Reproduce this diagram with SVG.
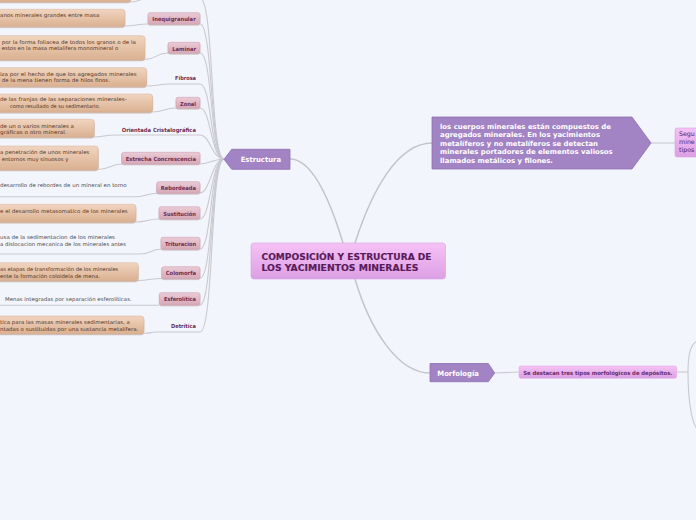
<svg xmlns="http://www.w3.org/2000/svg" width="696" height="520" viewBox="0 0 696 520">
<style>
text{font-family:"DejaVu Sans","Liberation Sans",sans-serif}
.con{fill:none;stroke:#c9c9ce;stroke-width:1.1}
.main{fill:none;stroke:#c4c4ca;stroke-width:1.5}
.lbl{fill:url(#gLbl);stroke:#d0a2b3;stroke-width:0.6;filter:url(#sh)}
.lt{font-size:5.6px;font-weight:bold;fill:#6e2f50}
.desc{fill:url(#gTan);stroke:#d6b094;stroke-width:0.5;filter:url(#sh)}
.dt{font-size:5.2px;fill:#55361f}
.pt{font-size:5.2px;fill:#4a4a4a}
.wt{font-weight:bold;fill:#ffffff}
.purple{fill:#a283c3;stroke:#8e6eb0;stroke-width:0.8}
</style>
<defs>
<filter id="sh" x="-10%" y="-20%" width="120%" height="160%"><feDropShadow dx="0" dy="1" stdDeviation="0.6" flood-color="#9a7a6a" flood-opacity="0.45"/></filter>
<linearGradient id="gLbl" x1="0" y1="0" x2="0" y2="1"><stop offset="0" stop-color="#eacbd6"/><stop offset="1" stop-color="#d6a8b8"/></linearGradient>
<linearGradient id="gTan" x1="0" y1="0" x2="0" y2="1"><stop offset="0" stop-color="#f1d5c0"/><stop offset="1" stop-color="#dab090"/></linearGradient>
<linearGradient id="gPink" x1="0" y1="0" x2="0" y2="1"><stop offset="0" stop-color="#f5c2f5"/><stop offset="1" stop-color="#dc9fe4"/></linearGradient>
</defs>
<rect width="696" height="520" fill="#f3f5fd"/>

<g id="connectors">
<path class="main" d="M290 159 C312 159 330 200 343 243"/>
<path class="main" d="M355 243 C372 190 398 143 432 143"/>
<path class="main" d="M355 279 C370 330 398 373 430 373"/>
<path class="con" d="M495 373 L519 372"/>
<path class="con" d="M651 143 L675 143"/>
<path class="con" d="M677 372 L688 372"/>
<path class="con" d="M688 372 C688 352 691 342 700 340"/>
<path class="con" d="M688 372 C688 396 691 428 700 431"/>
<path class="con" d="M200 -2 C214 -2 210 159 224 159"/>
<path class="con" d="M200 24 C213 24 210 159 224 159"/>
<path class="con" d="M200 53 C213 53 210 159 224 159"/>
<path class="con" d="M200 84 C212 84 210 159 224 159"/>
<path class="con" d="M200 108 C211 108 211 159 224 159"/>
<path class="con" d="M200 135 C210 135 212 159 224 159"/>
<path class="con" d="M200 164 C210 164 213 159 224 159"/>
<path class="con" d="M200 193 C210 193 212 159 224 159"/>
<path class="con" d="M200 219 C211 219 211 159 224 159"/>
<path class="con" d="M200 249 C212 249 210 159 224 159"/>
<path class="con" d="M200 278 C213 278 210 159 224 159"/>
<path class="con" d="M200 305 C213 305 210 159 224 159"/>
<path class="con" d="M200 332 C214 332 210 159 224 159"/>
<path class="con" d="M131 2 C140 2 140 -2 150 -2 L200 -2"/>
<path class="con" d="M125 26 C136 26 136 24 148 24"/>
<path class="con" d="M145 59.5 C156 59.5 156 53 168 53"/>
<path class="con" d="M147 86 C158 86 158 84 170 84 L200 84"/>
<path class="con" d="M153 112 C164 112 164 108 176 108"/>
<path class="con" d="M94 137 C104 137 104 135 116 135 L200 135"/>
<path class="con" d="M98 169.5 C110 169.5 110 164 122 164"/>
<path class="con" d="M-5 196.7 L136 196.7 C147 196.7 146 193.3 157 193.3"/>
<path class="con" d="M136 222 C147 222 148 219 159 219"/>
<path class="con" d="M-5 254 L140 254 C151 254 150 249.3 161 249.3"/>
<path class="con" d="M138 280.5 C149 280.5 150 278.5 162 278.5"/>
<path class="con" d="M-5 305.3 L159 305.3"/>
<path class="con" d="M144 333.3 C152 333.3 150 332 157 332 L200 332"/>
</g>

<g id="center">
<rect x="251" y="243" width="194.5" height="36" rx="3" fill="url(#gPink)" stroke="#d9a0e0" stroke-width="0.6"/>
<text x="261.5" y="260" font-size="8.6" font-weight="bold" fill="#5a1a5a" stroke="#5a1a5a" stroke-width="0.15" textLength="170" lengthAdjust="spacingAndGlyphs">COMPOSICIÓN Y ESTRUCTURA DE</text>
<text x="261.5" y="271.2" font-size="8.6" font-weight="bold" fill="#5a1a5a" stroke="#5a1a5a" stroke-width="0.15" textLength="157" lengthAdjust="spacingAndGlyphs">LOS YACIMIENTOS MINERALES</text>
</g>

<g id="estructura">
<polygon class="purple" points="224,159.3 231.7,149.3 290,149.3 290,169.3 231.7,169.3"/>
<text class="wt" x="240.7" y="162" font-size="7.2" textLength="40.3" lengthAdjust="spacingAndGlyphs">Estructura</text>
</g>

<g id="composicion">
<polygon class="purple" points="432,117 632,117 651,143 632,169 432,169"/>
<text class="wt" x="440" y="129" font-size="6.9" textLength="171" lengthAdjust="spacingAndGlyphs">los cuerpos minerales están compuestos de</text>
<text class="wt" x="440" y="137.4" font-size="6.9" textLength="160" lengthAdjust="spacingAndGlyphs">agregados minerales. En los yacimientos</text>
<text class="wt" x="440" y="145.8" font-size="6.9" textLength="158" lengthAdjust="spacingAndGlyphs">metalíferos y no metalíferos se detectan</text>
<text class="wt" x="440" y="154.2" font-size="6.9" textLength="172.7" lengthAdjust="spacingAndGlyphs">minerales portadores de elementos valiosos</text>
<text class="wt" x="440" y="162.6" font-size="6.9" textLength="113" lengthAdjust="spacingAndGlyphs">llamados metálicos y filones.</text>
</g>

<g id="segun">
<rect x="675" y="128" width="30" height="29" rx="2" fill="url(#gPink)" stroke="#d9a0e0" stroke-width="0.6"/>
<text x="679" y="136" font-size="6.3" fill="#5a1a5a">Segu</text>
<text x="679" y="144" font-size="6.3" fill="#5a1a5a">mine</text>
<text x="679" y="152" font-size="6.3" fill="#5a1a5a">tipos</text>
</g>

<g id="morfologia">
<polygon class="purple" points="430,363.5 488.3,363.5 494.7,373 488.3,381.7 430,381.7"/>
<text class="wt" x="437.3" y="376" font-size="7.2" textLength="41.7" lengthAdjust="spacingAndGlyphs">Morfología</text>
</g>

<g id="destacan">
<rect x="519" y="366" width="157.7" height="12.3" rx="2" fill="url(#gPink)" stroke="#dca4e4" stroke-width="0.5"/>
<text x="523.3" y="374.5" font-size="5.6" font-weight="bold" fill="#6a2a6a" textLength="149" lengthAdjust="spacingAndGlyphs">Se destacan tres tipos morfológicos de depósitos.</text>
</g>

<g id="top-item">
<rect class="desc" x="-20" y="-14" width="151" height="16" rx="3"/>
</g>

<g id="inequigranular">
<rect class="lbl" x="148" y="12.7" width="52" height="11.6" rx="2"/>
<text class="lt" x="152.3" y="20.8" textLength="43.4" lengthAdjust="spacingAndGlyphs">Inequigranular</text>
<rect class="desc" x="-20" y="9.3" width="145" height="17.4" rx="3"/>
<text class="dt" x="0" y="17" textLength="99.3" lengthAdjust="spacingAndGlyphs">anos minerales grandes entre masa</text>
</g>

<g id="laminar">
<rect class="lbl" x="168" y="42.3" width="32" height="11" rx="2"/>
<text class="lt" x="172.3" y="50.6" textLength="23.7" lengthAdjust="spacingAndGlyphs">Laminar</text>
<rect class="desc" x="-20" y="35.7" width="165" height="24.3" rx="3"/>
<text class="dt" x="1.7" y="44" textLength="134.3" lengthAdjust="spacingAndGlyphs">por la forma foliacea de todos los granos o de la</text>
<text class="dt" x="1.7" y="50" textLength="116.6" lengthAdjust="spacingAndGlyphs">estos en la masa metalifera monomineral o</text>
</g>

<g id="fibrosa">
<text class="lt" x="175" y="80.3" textLength="21" lengthAdjust="spacingAndGlyphs">Fibrosa</text>
<rect class="desc" x="-20" y="67.7" width="166.7" height="19" rx="3"/>
<text class="dt" x="0" y="75.8" textLength="136.7" lengthAdjust="spacingAndGlyphs">iza por el hecho de que los agregados minerales</text>
<text class="dt" x="1.7" y="81.8" textLength="108.3" lengthAdjust="spacingAndGlyphs">de la mena tienen forma de hilos finos.</text>
</g>

<g id="zonal">
<rect class="lbl" x="176" y="97.3" width="24" height="11" rx="2"/>
<text class="lt" x="180" y="105.8" textLength="16" lengthAdjust="spacingAndGlyphs">Zonal</text>
<rect class="desc" x="-20" y="94" width="172.7" height="18.3" rx="3"/>
<text class="dt" x="0" y="101.3" textLength="126.7" lengthAdjust="spacingAndGlyphs">de las franjas de las separaciones minerales-</text>
<text class="dt" x="10" y="108.3" textLength="90" lengthAdjust="spacingAndGlyphs">como resultado de su sedimentario.</text>
</g>

<g id="orientada">
<text class="lt" x="121.7" y="132" textLength="74.3" lengthAdjust="spacingAndGlyphs">Orientada Cristalográfica</text>
<rect class="desc" x="-20" y="119.3" width="114.3" height="18" rx="3"/>
<text class="dt" x="0" y="127.6" textLength="74" lengthAdjust="spacingAndGlyphs">de un o varios minerales a</text>
<text class="dt" x="0" y="134" textLength="66.7" lengthAdjust="spacingAndGlyphs">gráficas o otro mineral.</text>
</g>

<g id="estrecha">
<rect class="lbl" x="121.7" y="152.3" width="78.3" height="11.7" rx="2"/>
<text class="lt" x="125.7" y="160.8" textLength="70.3" lengthAdjust="spacingAndGlyphs">Estrecha Concrescencia</text>
<rect class="desc" x="-20" y="146" width="118.3" height="24" rx="3"/>
<text class="dt" x="0" y="154.2" textLength="89.3" lengthAdjust="spacingAndGlyphs">a penetración de unos minerales</text>
<text class="dt" x="1.7" y="161" textLength="66.6" lengthAdjust="spacingAndGlyphs">entornos muy sinuosos y</text>
</g>

<g id="rebordeada">
<rect class="lbl" x="156.7" y="181.7" width="43.3" height="11.6" rx="2"/>
<text class="lt" x="160.7" y="190.3" textLength="35.3" lengthAdjust="spacingAndGlyphs">Rebordeada</text>
<text class="pt" x="0" y="187" textLength="126.7" lengthAdjust="spacingAndGlyphs">desarrollo de rebordes de un mineral en torno</text>
</g>

<g id="sustitucion">
<rect class="lbl" x="159" y="206.7" width="41" height="12.3" rx="2"/>
<text class="lt" x="163.3" y="215.5" textLength="32.7" lengthAdjust="spacingAndGlyphs">Sustitución</text>
<rect class="desc" x="-20" y="204.3" width="156" height="18" rx="3"/>
<text class="dt" x="0" y="212.6" textLength="127.7" lengthAdjust="spacingAndGlyphs">e el desarrollo metasomatico de los minerales</text>
</g>

<g id="trituracion">
<rect class="lbl" x="161" y="237.3" width="39" height="12" rx="2"/>
<text class="lt" x="165" y="246" textLength="31" lengthAdjust="spacingAndGlyphs">Trituracion</text>
<text class="pt" x="0" y="238.6" textLength="115" lengthAdjust="spacingAndGlyphs">usa de la sedimentacion de los minerales</text>
<text class="pt" x="0" y="245.8" textLength="126" lengthAdjust="spacingAndGlyphs">a dislocacion mecanica de los minerales antes</text>
</g>

<g id="colomorfa">
<rect class="lbl" x="161.7" y="266.7" width="38.3" height="12" rx="2"/>
<text class="lt" x="165.7" y="275" textLength="30.3" lengthAdjust="spacingAndGlyphs">Colomorfa</text>
<rect class="desc" x="-20" y="262.7" width="158.3" height="18.3" rx="3"/>
<text class="dt" x="0" y="270.8" textLength="118.3" lengthAdjust="spacingAndGlyphs">as etapas de transformación de los minerales</text>
<text class="dt" x="0" y="277.6" textLength="100" lengthAdjust="spacingAndGlyphs">ente la formación coloidela de mena.</text>
</g>

<g id="esferolitica">
<rect class="lbl" x="159.3" y="292.7" width="40.7" height="12.3" rx="2"/>
<text class="lt" x="164" y="301.2" textLength="32" lengthAdjust="spacingAndGlyphs">Esferolítica</text>
<text class="pt" x="5" y="301" textLength="126.7" lengthAdjust="spacingAndGlyphs">Menas integradas por separación esferolíticas.</text>
</g>

<g id="detritica">
<text class="lt" x="171" y="328.2" textLength="25" lengthAdjust="spacingAndGlyphs">Detrítica</text>
<rect class="desc" x="-20" y="316" width="164" height="18" rx="3"/>
<text class="dt" x="0" y="324.2" textLength="130" lengthAdjust="spacingAndGlyphs">tica para las masas minerales sedimentarias, a</text>
<text class="dt" x="0" y="331" textLength="138.3" lengthAdjust="spacingAndGlyphs">ntadas o sustituidas por una sustancia metalífera.</text>
</g>
</svg>
